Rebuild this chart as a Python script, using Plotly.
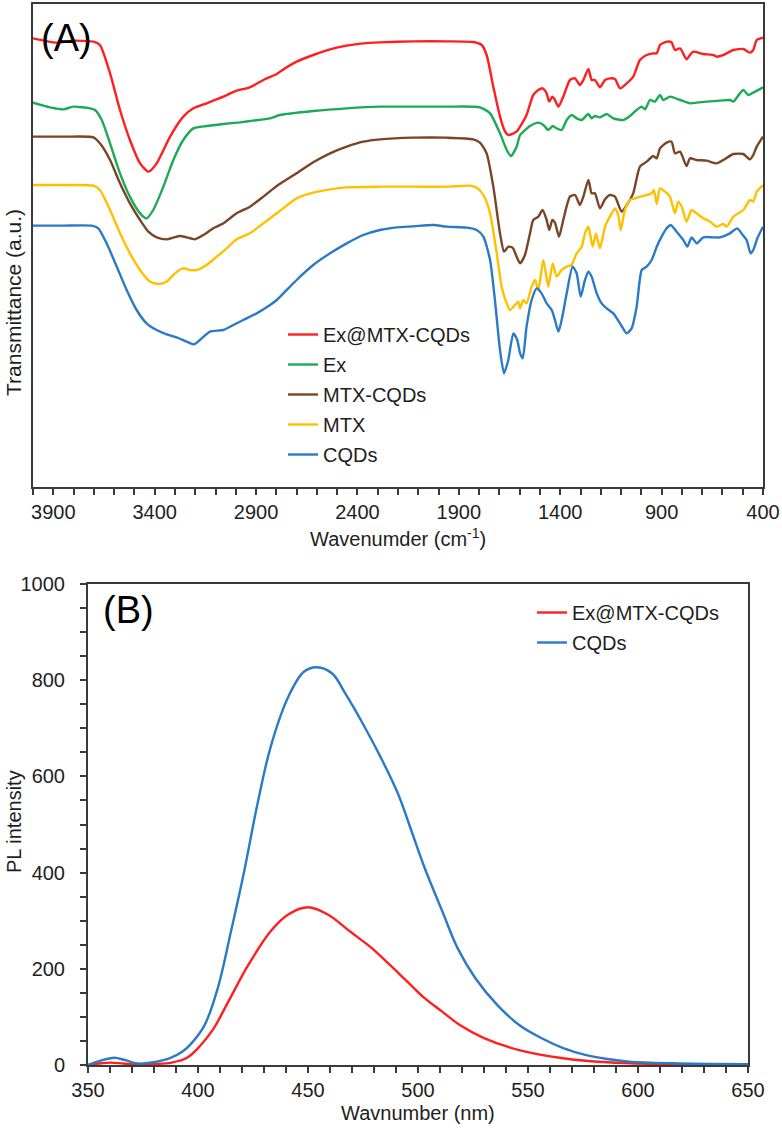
import plotly.graph_objects as go

# ---------------- Panel (A): FTIR spectra (offset, a.u.) ----------------
wn_ex_mtx_cqds = [4000, 3883, 3801, 3702, 3670, 3620, 3571, 3522, 3472, 3431, 3390, 3324, 3259, 3209, 3144, 3061, 2996, 2930, 2864, 2798,
                  2782, 2700, 2618, 2535, 2453, 2371, 2289, 2124, 1960, 1829, 1787, 1763, 1730, 1697, 1672, 1656, 1615, 1598, 1566, 1533,
                  1508, 1487, 1467, 1454, 1439, 1426, 1409, 1385, 1352, 1327, 1303, 1286, 1261, 1245, 1229, 1204, 1179, 1155, 1130, 1105,
                  1072, 1040, 1007, 974, 941, 924, 908, 875, 851, 834, 809, 777, 760, 744, 694, 645, 629, 596, 546, 497,
                  464, 448, 431, 400]
t_ex_mtx_cqds = [134.6, 133.3, 133.9, 133.6, 132.6, 124.1, 113.1, 104.1, 97.1, 94.6, 97.1, 105.1, 111.1, 113.6, 115.1, 117.1, 118.9, 119.9, 122.1, 123.9,
                 124.6, 127.6, 129.6, 131.3, 132.4, 133.1, 133.4, 133.7, 133.7, 133.5, 132.6, 129.6, 120.1, 111.1, 106.6, 105.6, 106.6, 108.1, 111.6, 117.6,
                 119.1, 119.6, 118.1, 115.6, 117.1, 116.1, 114.1, 117.1, 122.1, 122.6, 120.6, 122.1, 125.4, 122.1, 122.1, 119.9, 122.1, 122.6, 122.4, 119.6,
                 121.1, 123.1, 128.1, 129.6, 130.1, 130.1, 132.6, 133.6, 133.4, 131.1, 131.6, 128.3, 129.6, 130.6, 129.9, 129.6, 129.1, 129.6, 131.1, 131.4,
                 130.3, 131.1, 134.1, 134.8]

wn_ex = [4000, 3916, 3850, 3801, 3719, 3694, 3661, 3620, 3571, 3522, 3472, 3440, 3407, 3357, 3308, 3259, 3209, 3144, 3061, 2979,
         2914, 2831, 2782, 2618, 2453, 2289, 2124, 1960, 1796, 1746, 1697, 1664, 1643, 1615, 1598, 1582, 1549, 1508, 1483, 1459,
         1437, 1418, 1393, 1368, 1344, 1319, 1294, 1261, 1245, 1229, 1204, 1171, 1138, 1089, 1056, 1023, 998, 982, 957, 933,
         908, 892, 859, 809, 760, 727, 678, 612, 563, 546, 514, 497, 472, 448, 400]
t_ex = [115.3, 113.9, 113.3, 114.1, 113.6, 113.1, 110.1, 103.1, 94.1, 87.1, 82.1, 80.6, 83.1, 90.1, 98.1, 104.1, 107.6, 108.3, 108.9, 109.4,
        109.9, 110.6, 111.6, 112.8, 113.6, 114.1, 114.1, 114.1, 113.9, 112.1, 106.1, 101.1, 99.3, 102.1, 105.6, 106.6, 108.3, 109.3, 108.6, 107.1,
        108.3, 107.6, 107.1, 110.1, 111.6, 110.6, 110.1, 111.9, 110.6, 111.3, 110.9, 111.9, 110.6, 110.1, 111.3, 113.1, 114.1, 113.3, 116.1, 115.6,
        117.6, 116.1, 117.1, 116.1, 115.1, 115.3, 115.6, 115.9, 116.1, 115.6, 118.1, 119.1, 117.6, 118.3, 119.9]

wn_mtx_cqds = [4000, 3850, 3702, 3670, 3620, 3571, 3522, 3472, 3431, 3390, 3341, 3308, 3275, 3242, 3201, 3160, 3111, 3061, 2996, 2930,
               2864, 2798, 2700, 2618, 2535, 2453, 2371, 2289, 2124, 1960, 1829, 1796, 1763, 1730, 1697, 1677, 1656, 1635, 1615, 1598,
               1574, 1549, 1533, 1508, 1487, 1467, 1454, 1439, 1426, 1406, 1385, 1352, 1327, 1303, 1286, 1261, 1245, 1229, 1204, 1179,
               1155, 1130, 1097, 1072, 1040, 1007, 974, 941, 924, 908, 875, 851, 834, 809, 777, 760, 727, 678, 629, 596,
               546, 497, 464, 448, 431, 400]
t_mtx_cqds = [105.1, 105.1, 104.9, 103.1, 98.1, 91.1, 85.1, 80.1, 76.6, 74.9, 74.3, 74.8, 75.3, 74.9, 74.3, 75.6, 77.6, 79.1, 82.1, 84.1,
              87.1, 90.3, 94.1, 97.4, 100.1, 102.1, 103.6, 104.3, 104.8, 104.8, 104.3, 103.3, 100.1, 90.1, 76.1, 70.6, 72.1, 71.8, 69.1, 67.1,
              69.6, 76.1, 80.1, 81.1, 83.1, 80.1, 77.1, 80.1, 79.3, 75.1, 80.1, 87.1, 87.6, 84.6, 87.1, 92.1, 88.1, 88.1, 83.6, 86.3,
              87.6, 87.1, 82.6, 84.6, 88.1, 96.1, 97.6, 99.3, 98.6, 101.6, 103.3, 103.6, 100.1, 100.6, 96.3, 98.6, 98.1, 97.9, 97.1, 98.1,
              99.9, 99.9, 98.3, 99.6, 102.1, 105.1]

wn_mtx = [4000, 3850, 3702, 3670, 3620, 3571, 3522, 3472, 3423, 3382, 3341, 3300, 3259, 3226, 3193, 3144, 3094, 3045, 2996, 2930,
          2864, 2798, 2700, 2618, 2535, 2453, 2289, 2124, 1960, 1845, 1812, 1779, 1746, 1713, 1689, 1664, 1648, 1623, 1607, 1598,
          1582, 1566, 1541, 1524, 1508, 1483, 1459, 1437, 1418, 1393, 1368, 1344, 1319, 1294, 1278, 1261, 1240, 1224, 1204, 1179,
          1155, 1130, 1114, 1102, 1081, 1056, 1031, 1007, 974, 949, 938, 924, 908, 883, 859, 834, 818, 801, 777, 752,
          727, 694, 661, 629, 596, 579, 546, 497, 464, 448, 431, 400]
t_mtx = [90.6, 90.6, 90.4, 89.1, 83.1, 76.1, 70.1, 65.1, 61.6, 60.9, 61.6, 64.1, 65.6, 65.1, 65.1, 66.6, 69.1, 71.6, 74.3, 76.1,
         79.1, 82.1, 86.6, 88.3, 89.3, 89.9, 90.1, 90.1, 90.1, 90.4, 89.8, 87.6, 82.1, 70.1, 60.1, 55.1, 53.1, 54.6, 55.6, 53.6,
         56.1, 55.1, 60.1, 62.1, 59.1, 68.1, 60.1, 67.1, 63.1, 65.1, 66.1, 66.6, 70.1, 72.1, 76.1, 78.1, 72.1, 76.1, 71.6, 78.1,
         81.1, 83.6, 81.6, 77.1, 83.1, 86.1, 86.6, 87.1, 87.6, 88.1, 89.1, 84.9, 89.6, 88.6, 87.1, 82.1, 85.6, 84.1, 79.6, 83.1,
         82.1, 80.6, 79.6, 78.1, 78.9, 78.1, 81.1, 83.1, 86.1, 85.6, 88.6, 90.6]

wn_cqds = [4000, 3850, 3711, 3678, 3637, 3587, 3538, 3489, 3440, 3390, 3341, 3292, 3242, 3206, 3177, 3127, 3061, 3012, 2963, 2897,
           2831, 2798, 2700, 2618, 2535, 2453, 2371, 2289, 2207, 2124, 2026, 1960, 1861, 1812, 1779, 1746, 1722, 1697, 1677, 1656,
           1631, 1612, 1598, 1585, 1566, 1541, 1516, 1492, 1467, 1442, 1426, 1409, 1393, 1368, 1339, 1319, 1299, 1278, 1261, 1245,
           1220, 1196, 1171, 1138, 1105, 1072, 1048, 1023, 998, 974, 949, 924, 900, 875, 855, 826, 793, 773, 752, 727,
           694, 645, 612, 563, 527, 500, 481, 461, 448, 428, 400]
t_cqds = [78.4, 78.4, 78.4, 77.6, 73.1, 66.1, 59.1, 53.1, 49.1, 47.1, 45.8, 44.9, 43.6, 42.8, 44.1, 46.6, 47.1, 48.6, 50.1, 52.1,
          54.6, 56.1, 62.1, 66.6, 70.1, 73.1, 75.6, 77.1, 77.9, 78.2, 78.6, 78.1, 77.8, 77.1, 75.1, 68.1, 56.1, 41.1, 34.1, 38.1,
          46.1, 44.1, 40.1, 38.6, 48.1, 56.1, 59.6, 58.1, 55.1, 53.1, 50.1, 46.6, 50.1, 58.1, 66.1, 64.1, 57.1, 62.1, 64.6, 63.1,
          58.1, 55.1, 53.6, 52.1, 49.1, 46.1, 47.6, 54.1, 65.1, 66.1, 68.1, 72.1, 75.1, 77.6, 78.6, 76.6, 74.1, 72.1, 74.9, 73.1,
          74.9, 74.9, 74.9, 76.1, 77.6, 75.6, 74.1, 70.1, 71.1, 74.6, 78.1]

ftir_names = ["Ex@MTX-CQDs", "Ex", "MTX-CQDs", "MTX", "CQDs"]

# ---------------- Panel (B): PL spectra ----------------
nm_ex_mtx_cqds = [350, 355, 360, 366, 372, 380, 388, 395, 401, 407, 413, 423, 433, 441, 450, 459, 469, 479, 487, 495,
                  503, 511, 519, 530, 546, 566, 586, 610, 650]
pl_ex_mtx_cqds = [0, 3, 5, 3, 1, 2, 5, 15, 40, 75, 125, 209, 278, 313, 328, 313, 278, 243, 209, 174,
                  139, 111, 83, 56, 31, 14, 5.6, 2, 0.5]
nm_cqds = [350, 355, 362, 367, 373, 380, 387, 393, 397, 403, 409, 415, 421, 427, 433, 441, 448, 454, 461, 467,
           475, 483, 491, 497, 503, 511, 518, 526, 536, 546, 556, 566, 576, 586, 596, 616, 650]
pl_cqds = [0, 8, 15, 10, 3, 6, 14, 28, 45, 83, 160, 278, 403, 542, 661, 765, 817, 827, 814, 772,
           709, 640, 563, 487, 410, 320, 243, 181, 125, 83, 56, 35, 21, 12.5, 7, 3.5, 1.5]
pl_names = ["Ex@MTX-CQDs", "CQDs"]

# ---------------- styling ----------------
W, H = 782, 1132
FONT = "Arial, 'Liberation Sans', sans-serif"
AX = "#3a3a3a"
TXT = "#1e1e1e"
c_red, c_green, c_brown, c_yellow, c_blue = "#FF1F1F", "#1DAA55", "#7A4526", "#FFC000", "#2A7AC8"

fig = go.Figure()
ftir = [(ftir_names[0], wn_ex_mtx_cqds, t_ex_mtx_cqds, c_red),
        (ftir_names[1], wn_ex, t_ex, c_green),
        (ftir_names[2], wn_mtx_cqds, t_mtx_cqds, c_brown),
        (ftir_names[3], wn_mtx, t_mtx, c_yellow),
        (ftir_names[4], wn_cqds, t_cqds, c_blue)]
for i, (name, x, y, c) in enumerate(ftir):
    fig.add_trace(go.Scatter(x=x, y=y, mode="lines", name=name, legendgroup=f"a{i}",
                             line=dict(color=c, width=2.4, shape="spline", smoothing=0.6),
                             xaxis="x", yaxis="y", legend="legend"))

pl = [(pl_names[0], nm_ex_mtx_cqds, pl_ex_mtx_cqds, c_red),
      (pl_names[1], nm_cqds, pl_cqds, c_blue)]
for i, (name, x, y, c) in enumerate(pl):
    fig.add_trace(go.Scatter(x=x, y=y, mode="lines", name=name, legendgroup=f"b{i}",
                             line=dict(color=c, width=2.4, shape="spline", smoothing=1.0),
                             xaxis="x2", yaxis="y2", legend="legend2"))

def px_x(p):
    return p / W

def px_y(p):
    return 1 - p / H

axis_common = dict(showline=True, linecolor=AX, linewidth=2, mirror=True, showgrid=False,
                   zeroline=False, tickcolor=AX, tickwidth=1.5, ticklen=6, ticks="outside",
                   automargin=False,
                   tickfont=dict(size=20, color=TXT, family=FONT))
minor_common = dict(ticks="outside", ticklen=6, tickwidth=1.5, tickcolor=AX, showgrid=False)

fig.update_layout(
    template="none",
    width=W, height=H, margin=dict(l=0, r=0, t=0, b=0, autoexpand=False),
    paper_bgcolor="white", plot_bgcolor="white",
    font=dict(family=FONT, size=20, color=TXT),
    xaxis=dict(domain=[px_x(33), px_x(763)], range=[4000, 400], anchor="y",
               tickmode="linear", tick0=400, dtick=500,
               minor=dict(tickmode="linear", tick0=400, dtick=100, **minor_common),
               **axis_common),
    yaxis=dict(domain=[px_y(487), px_y(4)], range=[0, 144.9], anchor="x",
               showline=True, linecolor=AX, linewidth=2, mirror=True, showgrid=False,
               zeroline=False, showticklabels=False, ticks="", automargin=False),
    xaxis2=dict(domain=[px_x(88), px_x(748)], range=[350, 650], anchor="y2",
                tickmode="linear", tick0=350, dtick=50,
                minor=dict(tickmode="linear", tick0=350, dtick=10, **minor_common),
                **axis_common),
    yaxis2=dict(domain=[px_y(1065), px_y(584)], range=[0, 1000], anchor="x2",
                tickmode="linear", tick0=0, dtick=200, ticklabelstandoff=11,
                minor=dict(tickmode="linear", tick0=0, dtick=50, **minor_common),
                **axis_common),
    legend=dict(x=px_x(283), y=px_y(315), xanchor="left", yanchor="top",
                bgcolor="rgba(0,0,0,0)", font=dict(size=20, color=TXT, family=FONT),
                itemwidth=30, traceorder="grouped", tracegroupgap=1),
    legend2=dict(x=px_x(532), y=px_y(593), xanchor="left", yanchor="top",
                 bgcolor="rgba(0,0,0,0)", font=dict(size=20, color=TXT, family=FONT),
                 itemwidth=30, traceorder="grouped", tracegroupgap=1),
    showlegend=True,
)

annotations = [
    dict(text="(A)", x=px_x(66), y=px_y(38), font=dict(size=38, color="black", family=FONT)),
    dict(text="(B)", x=px_x(128), y=px_y(610), font=dict(size=38, color="black", family=FONT)),
    dict(text="Wavenumder (cm<sup>-1</sup>)", x=px_x(398), y=px_y(537), font=dict(size=20, color=TXT, family=FONT)),
    dict(text="Transmittance (a.u.)", x=px_x(13), y=px_y(303), textangle=-90, font=dict(size=21, color=TXT, family=FONT)),
    dict(text="PL intensity", x=px_x(14), y=px_y(822), textangle=-90, font=dict(size=20, color=TXT, family=FONT)),
    dict(text="Wavnumber (nm)", x=px_x(418), y=px_y(1113), font=dict(size=20, color=TXT, family=FONT)),
]
for a in annotations:
    fig.add_annotation(xref="paper", yref="paper", showarrow=False, xanchor="center", yanchor="middle", **a)

# remove the browser's default 8 px body margin so the figure sits at the page origin
fig.write_html("out.html", config={"displayModeBar": False},
               post_script="document.body.style.margin='0';document.body.style.overflow='hidden';")
